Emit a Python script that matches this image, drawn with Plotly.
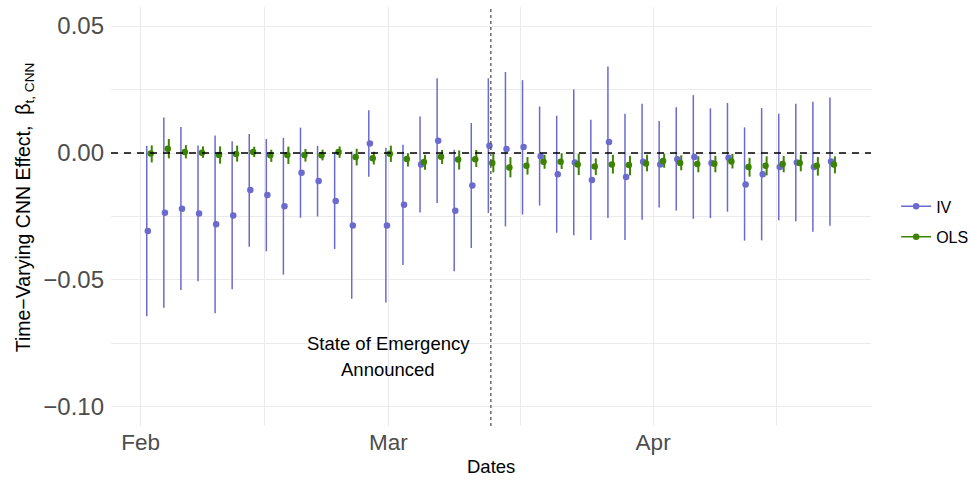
import plotly.graph_objects as go
import pandas as pd

# ---- data ----
dates = ["2020-02-02", "2020-02-04", "2020-02-06", "2020-02-08", "2020-02-10",
         "2020-02-12", "2020-02-14", "2020-02-16", "2020-02-18", "2020-02-20",
         "2020-02-22", "2020-02-24", "2020-02-26", "2020-02-28", "2020-03-01",
         "2020-03-03", "2020-03-05", "2020-03-07", "2020-03-09", "2020-03-11",
         "2020-03-13", "2020-03-15", "2020-03-17", "2020-03-19", "2020-03-21",
         "2020-03-23", "2020-03-25", "2020-03-27", "2020-03-29", "2020-03-31",
         "2020-04-02", "2020-04-04", "2020-04-06", "2020-04-08", "2020-04-10",
         "2020-04-12", "2020-04-14", "2020-04-16", "2020-04-18", "2020-04-20",
         "2020-04-22"]

iv_est = [-0.0307, -0.0235, -0.0219, -0.0238, -0.0281, -0.0246, -0.0146, -0.0165, -0.0210, -0.0078,
          -0.0110, -0.0189, -0.0285, 0.0037, -0.0285, -0.0204, -0.0045, 0.0048, -0.0227, -0.0128,
          0.0029, 0.0016, 0.0024, -0.0013, -0.0084, -0.0037, -0.0106, 0.0043, -0.0094, -0.0034,
          -0.0045, -0.0025, -0.0016, -0.0039, -0.0019, -0.0124, -0.0084, -0.0055, -0.0037, -0.0055,
          -0.0033]
iv_hi = [0.0029, 0.0140, 0.0102, 0.0030, 0.0069, 0.0046, 0.0075, 0.0055, 0.0060, 0.0100,
         0.0028, 0.0000, 0.0006, 0.0168, 0.0021, 0.0033, 0.0144, 0.0294, 0.0013, 0.0118,
         0.0294, 0.0319, 0.0287, 0.0183, 0.0147, 0.0250, 0.0131, 0.0341, 0.0155, 0.0194,
         0.0126, 0.0180, 0.0228, 0.0176, 0.0197, 0.0101, 0.0177, 0.0155, 0.0194, 0.0202,
         0.0219]
iv_lo = [-0.0643, -0.0609, -0.0539, -0.0505, -0.0631, -0.0536, -0.0369, -0.0387, -0.0479, -0.0255,
         -0.0250, -0.0378, -0.0574, -0.0093, -0.0589, -0.0441, -0.0234, -0.0197, -0.0466, -0.0374,
         -0.0236, -0.0289, -0.0242, -0.0207, -0.0314, -0.0324, -0.0343, -0.0256, -0.0343, -0.0263,
         -0.0215, -0.0226, -0.0259, -0.0256, -0.0231, -0.0345, -0.0344, -0.0265, -0.0269, -0.0310,
         -0.0286]

ols_est = [-0.0002, 0.0017, 0.0004, 0.0001, -0.0008, -0.0004, 0.0004, -0.0009, -0.0008, -0.0008,
           -0.0009, 0.0004, -0.0016, -0.0021, -0.0003, -0.0024, -0.0035, -0.0015, -0.0026, -0.0025,
           -0.0039, -0.0057, -0.0050, -0.0034, -0.0034, -0.0045, -0.0053, -0.0045, -0.0047, -0.0041,
           -0.0031, -0.0039, -0.0043, -0.0042, -0.0033, -0.0055, -0.0050, -0.0043, -0.0039, -0.0050,
           -0.0045]
ols_hi = [0.0030, 0.0055, 0.0031, 0.0026, 0.0026, 0.0029, 0.0025, 0.0013, 0.0025, 0.0016,
          0.0013, 0.0026, 0.0017, 0.0005, 0.0029, -0.0001, -0.0007, 0.0012, 0.0010, 0.0012,
          -0.0004, -0.0016, -0.0016, -0.0007, -0.0001, -0.0003, -0.0021, -0.0007, -0.0011, -0.0007,
          -0.0003, -0.0009, -0.0013, -0.0011, -0.0004, -0.0019, -0.0013, -0.0012, -0.0007, -0.0016,
          -0.0013]
ols_lo = [-0.0037, -0.0021, -0.0021, -0.0019, -0.0042, -0.0034, -0.0016, -0.0035, -0.0043, -0.0034,
          -0.0029, -0.0019, -0.0049, -0.0045, -0.0035, -0.0053, -0.0066, -0.0043, -0.0065, -0.0055,
          -0.0076, -0.0096, -0.0085, -0.0062, -0.0063, -0.0087, -0.0087, -0.0081, -0.0088, -0.0072,
          -0.0058, -0.0068, -0.0076, -0.0076, -0.0061, -0.0093, -0.0088, -0.0076, -0.0072, -0.0089,
          -0.0080]

series_names = ["IV", "OLS"]
emergency_date = "2020-03-13"
month_ticks = ["2020-02-01", "2020-03-01", "2020-04-01"]
month_minor = ["2020-02-15 12:00", "2020-03-16 12:00", "2020-04-15 12:00"]
y_ticks = [-0.10, -0.05, 0.0, 0.05]
y_ticklabels = ["\u22120.10", "\u22120.05", "0.00", "0.05"]
y_minor = [-0.075, -0.025, 0.025]

# ---- styling ----
IV_COLOR = "#6a6acf"
OLS_COLOR = "#3c8400"
GRID = "#ebebeb"
TICK_GREY = "#4d4d4d"
FONT = "Liberation Sans, Arial, sans-serif"

d = pd.to_datetime(pd.Series(dates))
bar_shift = pd.Timedelta(hours=7)
pt_shift = pd.Timedelta(hours=4)


def segments(xs, lo, hi):
    sx, sy = [], []
    for x, a, b in zip(xs, lo, hi):
        sx += [x, x, None]
        sy += [a, b, None]
    return sx, sy


fig = go.Figure()

for name, sign, lo, hi, col, w in [("IV", -1, iv_lo, iv_hi, IV_COLOR, 1.5),
                                     ("OLS", 1, ols_lo, ols_hi, OLS_COLOR, 2.0)]:
    sx, sy = segments(list(d + sign * bar_shift), lo, hi)
    fig.add_trace(go.Scatter(x=sx, y=sy, mode="lines", line=dict(color=col, width=w),
                             showlegend=False, hoverinfo="skip", legendgroup=name))

for name, sign, est, col in [("IV", -1, iv_est, IV_COLOR), ("OLS", 1, ols_est, OLS_COLOR)]:
    fig.add_trace(go.Scatter(x=d + sign * pt_shift, y=est, mode="markers",
                             marker=dict(color=col, size=6.5), showlegend=False,
                             name=name, legendgroup=name))

for name, col in zip(series_names, [IV_COLOR, OLS_COLOR]):
    fig.add_trace(go.Scatter(x=[None], y=[None], mode="lines+markers", name=name,
                             line=dict(color=col, width=1.5), marker=dict(color=col, size=6.5),
                             legendgroup=name))

fig.add_shape(type="line", xref="paper", x0=0, x1=1, yref="y", y0=0, y1=0,
              line=dict(color="black", width=1.4, dash="7px,6px"), layer="above")
fig.add_shape(type="line", xref="x", x0=emergency_date, x1=emergency_date, yref="paper", y0=0, y1=1,
              line=dict(color="#555555", width=1.3, dash="3px,3px"), layer="above")

fig.add_annotation(x="2020-03-01", y=-0.0752, xref="x", yref="y", text="State of Emergency",
                   showarrow=False, font=dict(size=18.5, color="black", family=FONT),
                   xanchor="center", yanchor="middle")
fig.add_annotation(x="2020-03-01", y=-0.0853, xref="x", yref="y", text="Announced",
                   showarrow=False, font=dict(size=18.5, color="black", family=FONT),
                   xanchor="center", yanchor="middle")

# axis titles
fig.add_annotation(x=-0.1145, y=0.522, xref="paper", yref="paper", textangle=-90,
                   text="Time\u2212Varying CNN Effect,  \u03b2<sub>t, CNN</sub>",
                   showarrow=False, font=dict(size=19.5, color="black", family=FONT),
                   xanchor="center", yanchor="middle")
fig.add_annotation(x=0.5, y=-0.097, xref="paper", yref="paper", text="Dates",
                   showarrow=False, font=dict(size=18.5, color="black", family=FONT),
                   xanchor="center", yanchor="middle")

fig.update_layout(
    width=973, height=483,
    margin=dict(l=111, r=102, t=7, b=57),
    paper_bgcolor="white", plot_bgcolor="white",
    font=dict(family=FONT),
    showlegend=True,
    legend=dict(xref="container", x=0.921, xanchor="left", y=0.487, yanchor="middle",
                font=dict(size=16, color="black", family=FONT),
                tracegroupgap=6.5, bgcolor="rgba(0,0,0,0)"),
    xaxis=dict(type="date", range=["2020-01-28 12:30", "2020-04-26 12:20"],
               tickmode="array", tickvals=month_ticks, tickformat="%b",
               showgrid=True, gridcolor=GRID, gridwidth=1.2,
               minor=dict(tickmode="array", tickvals=month_minor, showgrid=True,
                          gridcolor=GRID, gridwidth=0.8),
               showline=False, zeroline=False, ticks="", automargin=False,
               tickfont=dict(size=22.5, color=TICK_GREY, family=FONT),
               ticklabelstandoff=0),
    yaxis=dict(range=[-0.1075, 0.0575], tickmode="array", tickvals=y_ticks,
               ticktext=y_ticklabels,
               showgrid=True, gridcolor=GRID, gridwidth=1.2,
               minor=dict(tickmode="array", tickvals=y_minor, showgrid=True,
                          gridcolor=GRID, gridwidth=0.8),
               showline=False, zeroline=False, ticks="", automargin=False,
               tickfont=dict(size=24, color=TICK_GREY, family=FONT),
               ticklabelstandoff=6),
)

fig.write_html("out.html", config={"displayModeBar": False},
               post_script="document.body.style.margin='0';document.body.style.overflow='hidden';")
